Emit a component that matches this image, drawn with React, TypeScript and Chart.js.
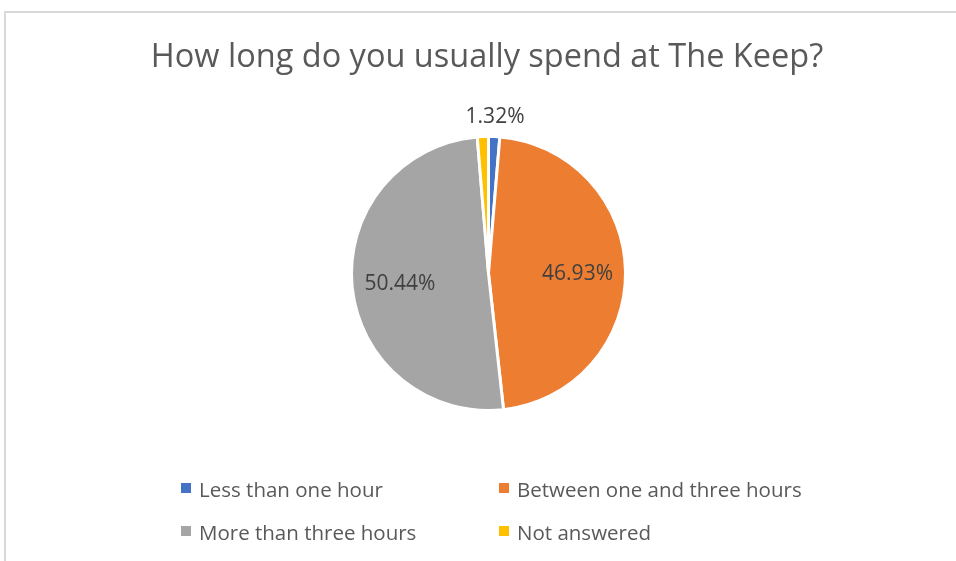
import React, { useEffect, useRef } from "react";
import { Chart, registerables } from "chart.js";

Chart.register(...registerables);

const chartTitle = "How long do you usually spend at The Keep?";
const categories = [
  "Less than one hour",
  "Between one and three hours",
  "More than three hours",
  "Not answered",
];
const values = [1.32, 46.93, 50.44, 1.31];
const colors = ["#4472C4", "#ED7D31", "#A5A5A5", "#FFC000"];

const FONT = '"Open Sans", "Liberation Sans", sans-serif';
const TEXT = "#595959";

const overlayPlugin = {
  id: "overlay",
  afterDraw(chart: any) {
    const ctx: CanvasRenderingContext2D = chart.ctx;
    ctx.save();
    // Title
    ctx.fillStyle = TEXT;
    ctx.textAlign = "center";
    ctx.textBaseline = "alphabetic";
    ctx.font = `32.5px ${FONT}`;
    ctx.fillText(chartTitle, 487, 67);

    // Data labels
    const meta = chart.getDatasetMeta(0);
    const total = values.reduce((a, b) => a + b, 0);
    const fs = 21;
    ctx.font = `${fs}px ${FONT}`;
    const placed: { x0: number; y0: number; x1: number; y1: number }[] = [];
    meta.data.forEach((arc: any, i: number) => {
      const p = arc.getProps(["x", "y", "startAngle", "endAngle", "outerRadius"], true);
      const mid = (p.startAngle + p.endAngle) / 2;
      const frac = values[i] / total;
      const txt = values[i].toFixed(2) + "%";
      const w = ctx.measureText(txt).width;
      const h = 16;
      const r = frac < 0.05 ? p.outerRadius + 21 : p.outerRadius * 0.65;
      const lx = p.x + Math.cos(mid) * r;
      const ly = p.y + Math.sin(mid) * r;
      const box = { x0: lx - w / 2, y0: ly - h / 2, x1: lx + w / 2, y1: ly + h / 2 };
      const hit = placed.some(
        (b) => !(box.x1 < b.x0 || box.x0 > b.x1 || box.y1 < b.y0 || box.y0 > b.y1)
      );
      if (hit) return;
      placed.push(box);
      ctx.fillStyle = "#404040";
      ctx.fillText(txt, lx, ly + fs * 0.357);
    });

    // Legend (2 columns grid)
    ctx.font = `20.5px ${FONT}`;
    ctx.textAlign = "left";
    const colX = [181, 499];
    const rowY = [497, 540];
    categories.forEach((c, i) => {
      const cx = colX[i % 2];
      const by = rowY[Math.floor(i / 2)];
      ctx.fillStyle = colors[i];
      ctx.fillRect(cx, by - 14, 10, 10);
      ctx.fillStyle = TEXT;
      ctx.fillText(c, cx + 18, by);
    });
    ctx.restore();
  },
};

export default function App() {
  const ref = useRef<HTMLCanvasElement | null>(null);
  useEffect(() => {
    if (!ref.current) return;
    const chart = new Chart(ref.current, {
      type: "pie",
      data: {
        labels: categories,
        datasets: [
          {
            data: values,
            backgroundColor: colors,
            borderColor: "#ffffff",
            borderWidth: 3,
          },
        ],
      },
      options: {
        responsive: false,
        animation: false,
        layout: { padding: { top: 135, bottom: 149, left: 21, right: 0 } },
        plugins: {
          legend: { display: false },
          title: { display: false },
          tooltip: { enabled: false },
        },
      },
      plugins: [overlayPlugin],
    });
    return () => chart.destroy();
  }, []);

  return (
    <div style={{ position: "fixed", left: 0, top: 0, width: 956, height: 561, background: "#fff", overflow: "hidden" }}>
      <div
        style={{
          position: "absolute",
          left: 4,
          top: 11,
          width: 1000,
          height: 700,
          border: "2px solid #d9d9d9",
          boxSizing: "border-box",
        }}
      />
      <canvas ref={ref} width={956} height={561} style={{ position: "absolute", left: 0, top: 0, width: 956, height: 561 }} />
    </div>
  );
}
